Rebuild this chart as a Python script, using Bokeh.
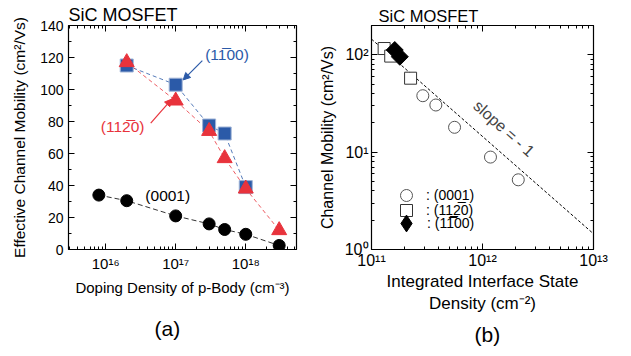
from bokeh.plotting import figure
from bokeh.layouts import row
from bokeh.models import (Range1d, FixedTicker, LinearAxis, LogAxis, Title, Label,
                          Arrow, NormalHead, Legend, LegendItem, CustomJSTickFormatter)
from bokeh.embed import file_html
from bokeh.resources import INLINE

# ---------------- data (a) ----------------
dop_0001 = [8e15, 2e16, 1e17, 3e17, 5e17, 1e18, 3e18]
mob_0001 = [34, 30.5, 21, 16, 12.5, 9.5, 2.5]
dop_1100 = [2e16, 1e17, 3e17, 5e17, 1e18]
mob_1100 = [115, 103, 77.5, 72.5, 39]
dop_1120 = [2e16, 1e17, 3e17, 5e17, 1e18, 3e18]
mob_1120 = [117, 93, 74, 57, 38, 12]

# ---------------- data (b) ----------------
dit_0001 = [2.9e11, 3.8e11, 5.6e11, 1.18e12, 2.1e12]
mu_0001 = [38, 30.5, 18, 8.9, 5.2]
dit_1120 = [1.3e11, 1.49e11, 2.25e11]
mu_1120 = [116, 97, 57.5]
dit_1100 = [1.62e11, 1.8e11]
mu_1100 = [112, 95.5]
slope_x = [1e11, 1e13]
slope_y = [145, 1.45]

legend_labels = [": (000\u03321)", ": (11\u033220)", ": (11\u030500)"]

BLUE = "#2B5AA8"
RED = "#E8333C"
FONT = "Liberation Sans"

sup_js = """
const s = {'0':'\u2070','1':'\u00b9','2':'\u00b2','3':'\u00b3','4':'\u2074','5':'\u2075','6':'\u2076','7':'\u2077','8':'\u2078','9':'\u2079','-':'\u207b'};
const e = Math.round(Math.log10(tick));
return '10' + String(e).split('').map(c => s[c]).join('');
"""

def minors(decades):
    return [m * 10.0 ** d for d in decades for m in range(2, 10)]

def style_axis(ax, label_size="15px"):
    ax.major_tick_in = 6
    ax.major_tick_out = 0
    ax.minor_tick_in = 3
    ax.minor_tick_out = 0
    ax.axis_line_color = None
    ax.major_tick_line_color = "black"
    ax.minor_tick_line_color = "black"
    ax.major_label_text_font = FONT
    ax.major_label_text_font_size = label_size
    ax.major_label_text_color = "black"
    ax.axis_label_text_font = FONT
    ax.axis_label_text_font_size = "15px"
    ax.axis_label_text_font_style = "normal"
    ax.axis_label_text_color = "black"

def hidden_axis(cls, ticker):
    ax = cls(ticker=ticker)
    style_axis(ax)
    ax.major_label_text_font_size = "2px"
    ax.major_label_text_alpha = 0
    ax.major_label_standoff = 0
    return ax

def panel_tag(text, offset, standoff):
    return Title(text=text, align="left", text_font=FONT, text_font_size="21px",
                 text_color="black", text_font_style="normal", offset=offset, standoff=standoff)

# ================= panel (a) =================
pa = figure(width=315, height=356, x_axis_type="log", output_backend="svg",
            toolbar_location=None, x_range=Range1d(2.95e15, 5.3e18), y_range=Range1d(0, 140),
            min_border_left=68, min_border_right=19, min_border_top=25, min_border_bottom=101)
pa.grid.visible = False
pa.outline_line_color = "black"
pa.outline_line_width = 1.2
pa.background_fill_color = "white"
pa.border_fill_color = "white"

xt_a = FixedTicker(ticks=[1e16, 1e17, 1e18], minor_ticks=minors([15, 16, 17, 18]))
yt_a = FixedTicker(ticks=list(range(0, 141, 20)), minor_ticks=list(range(10, 140, 20)))
pa.xaxis.ticker = xt_a
pa.yaxis.ticker = yt_a
pa.xaxis.formatter = CustomJSTickFormatter(code=sup_js)
for ax in pa.xaxis:
    style_axis(ax, "15px")
for ax in pa.yaxis:
    style_axis(ax, "14px")
pa.yaxis.axis_label = "Effective Channel Mobility (cm\u00b2/Vs)"
pa.yaxis.axis_label_standoff = 9
pa.yaxis.axis_label_text_font_size = "15.5px"
pa.xaxis.axis_label = "Doping Density of p-Body (cm\u207b\u00b3)"
pa.xaxis.axis_label_standoff = 4
pa.add_layout(hidden_axis(LogAxis, xt_a), "above")
pa.add_layout(hidden_axis(LinearAxis, yt_a), "right")

pa.title.text = "SiC MOSFET"
pa.title.align = "left"
pa.title.text_font = FONT
pa.title.text_font_size = "18px"
pa.title.text_font_style = "normal"
pa.title.text_color = "black"
pa.title.standoff = 2
pa.add_layout(panel_tag("(a)", 86, 33), "below")

pa.line(dop_1100, mob_1100, line_color=BLUE, line_dash="4 3", line_width=1, line_alpha=0.8)
pa.line(dop_1120, mob_1120, line_color=RED, line_dash="4 3", line_width=1, line_alpha=0.8)
pa.line(dop_0001, mob_0001, line_color="#333333", line_dash="5 3", line_width=1)
pa.scatter(dop_1100, mob_1100, marker="square", size=13, fill_color=BLUE, line_color="#9fb3d6", line_width=1)
pa.scatter(dop_1120, mob_1120, marker="triangle", size=15, fill_color=RED, line_color=RED)
pa.scatter(dop_0001, mob_0001, marker="circle", size=12, fill_color="black", line_color="black")

pa.add_layout(Label(x=5.4e17, y=122, text="(11\u030500)", text_color=BLUE, text_font=FONT,
                    text_font_size="15.5px", text_align="center", text_baseline="middle"))
pa.add_layout(Label(x=1.75e16, y=77, text="(112\u03050)", text_color=RED, text_font=FONT,
                    text_font_size="15.5px", text_align="center", text_baseline="middle"))
pa.add_layout(Label(x=7.7e16, y=34, text="(0001)", text_color="black", text_font=FONT,
                    text_font_size="15.5px", text_align="center", text_baseline="middle"))
pa.add_layout(Arrow(end=NormalHead(size=7, fill_color=BLUE, line_color=BLUE),
                    x_start=2.4e17, y_start=118, x_end=1.28e17, y_end=106,
                    line_color=BLUE, line_width=1.2))
pa.add_layout(Arrow(end=NormalHead(size=7, fill_color=RED, line_color=RED),
                    x_start=4.4e16, y_start=79, x_end=8.8e16, y_end=94,
                    line_color=RED, line_width=1.2))

# ================= panel (b) =================
pb = figure(width=316, height=356, x_axis_type="log", y_axis_type="log", output_backend="svg",
            toolbar_location=None, x_range=Range1d(1e11, 1e13), y_range=Range1d(1, 200),
            min_border_left=55, min_border_right=38, min_border_top=25, min_border_bottom=107)
pb.grid.visible = False
pb.outline_line_color = "black"
pb.outline_line_width = 1.2
pb.background_fill_color = "white"
pb.border_fill_color = "white"

xt_b = FixedTicker(ticks=[1e11, 1e12, 1e13], minor_ticks=minors([11, 12]))
yt_b = FixedTicker(ticks=[1, 10, 100], minor_ticks=minors([0, 1]) + [200])
pb.xaxis.ticker = xt_b
pb.yaxis.ticker = yt_b
pb.xaxis.formatter = CustomJSTickFormatter(code=sup_js)
pb.yaxis.formatter = CustomJSTickFormatter(code=sup_js)
for ax in pb.xaxis + pb.yaxis:
    style_axis(ax, "16px")
pb.yaxis.major_label_standoff = 3
pb.yaxis.axis_label = "Channel Mobility (cm\u00b2/Vs)"
pb.yaxis.axis_label_standoff = 6
pb.yaxis.axis_label_text_font_size = "16px"
pb.xaxis.major_label_standoff = 2
pb.xaxis.axis_label = "Integrated Interface State\nDensity (cm\u207b\u00b2)"
pb.xaxis.axis_label_standoff = 0
pb.xaxis.axis_label_text_font_size = "17px"
pb.add_layout(hidden_axis(LogAxis, xt_b), "above")
pb.add_layout(hidden_axis(LogAxis, yt_b), "right")

pb.title.text = "SiC MOSFET"
pb.title.align = "left"
pb.title.offset = 7
pb.title.text_font = FONT
pb.title.text_font_size = "16.5px"
pb.title.text_font_style = "normal"
pb.title.text_color = "black"
pb.title.standoff = 2
pb.add_layout(panel_tag("(b)", 103, 9), "below")

pb.line(slope_x, slope_y, line_color="black", line_dash="3 2", line_width=1)
rc = pb.scatter(dit_0001, mu_0001, marker="circle", size=12, fill_color="white", line_color="#555555", line_width=1)
rs = pb.scatter(dit_1120, mu_1120, marker="square", size=12, fill_color="white", line_color="#333333", line_width=1)
# diamond-shaped key for the legend (hidden beneath the rotated squares)
rd_key = pb.scatter(dit_1100, mu_1100, marker="diamond", size=12, fill_color="black", line_color="black")
rd = pb.scatter(dit_1100, mu_1100, marker="square", angle=0.785398, size=12, fill_color="black", line_color="black")

pb.add_layout(Label(x=1.56e12, y=17.5, text="slope = - 1", angle=-0.73, text_font=FONT,
                    text_font_size="16px", text_align="center", text_baseline="middle"))

def one_legend(label, rend, loc, box, standoff):
    return Legend(items=[LegendItem(label=label, renderers=[rend])],
                  location=loc, padding=0, spacing=0, margin=0,
                  glyph_width=box, glyph_height=box, label_height=box, label_standoff=standoff,
                  label_text_font=FONT, label_text_font_size="14px", label_text_color="black",
                  background_fill_alpha=0, border_line_color=None)

pb.add_layout(one_legend(legend_labels[0], rc, (20, 39), 30, 5))
pb.add_layout(one_legend(legend_labels[1], rs, (20, 24), 30, 5))
pb.add_layout(one_legend(legend_labels[2], rd_key, (14, 5), 42, 0))

layout = row(pa, pb, spacing=0)
open("out.html", "w").write(file_html(layout, INLINE))
